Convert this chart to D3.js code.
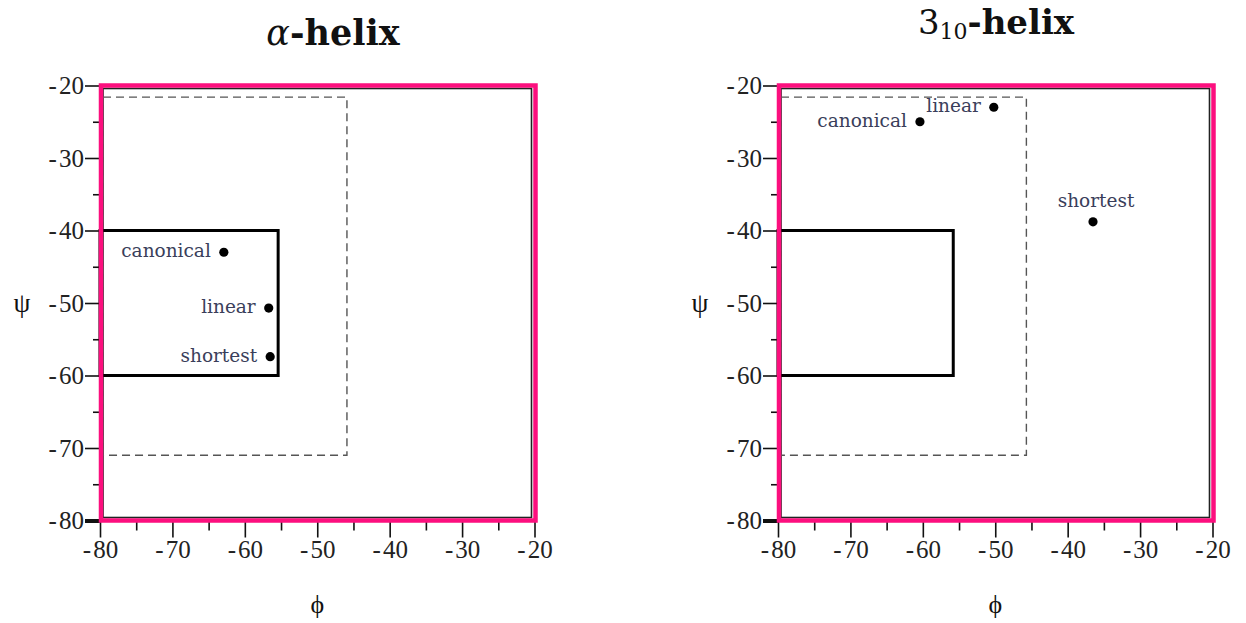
<!DOCTYPE html>
<html>
<head>
<meta charset="utf-8">
<script src="https://cdn.jsdelivr.net/npm/d3@7"></script>
<style>
  html, body { margin: 0; padding: 0; background: #ffffff; }
  svg { display: block; }
</style>
</head>
<body>
<svg id="chart" width="1246" height="623"></svg>
<script>
// Axis ranges and ticks (degrees)
const phiDomain = [-80, -20];
const psiDomain = [-80, -20];
const majorTicks = [-80, -70, -60, -50, -40, -30, -20];
const minorTicks = [-75, -65, -55, -45, -35, -25];

// Reference regions: [phiMin, phiMax, psiMin, psiMax]
const alphaSolidBox = [-80, -55.4, -60, -40];
const alphaDashedBox = [-80, -45.9, -71.0, -21.6];
const threeTenSolidBox = [-80, -55.8, -60, -40];
const threeTenDashedBox = [-80, -45.7, -71.0, -21.6];

// Helix parameter points
const pointNames = ["canonical", "linear", "shortest"];
const alphaPhi = [-62.9, -56.7, -56.5];
const alphaPsi = [-43.0, -50.7, -57.4];
const threeTenPhi = [-60.4, -50.2, -36.5];
const threeTenPsi = [-25.0, -23.0, -38.8];

const svg = d3.select("#chart");
const PINK = "#fc0f7e";
const serif = "'Liberation Serif', 'Times New Roman', serif";
const labelFont = "'DejaVu Serif', serif";

const panels = [
  {
    left: 100, title: "alpha",
    solid: alphaSolidBox, dashed: alphaDashedBox,
    phi: alphaPhi, psi: alphaPsi,
    place: ["left", "left", "left"]
  },
  {
    left: 778, title: "threeTen",
    solid: threeTenSolidBox, dashed: threeTenDashedBox,
    phi: threeTenPhi, psi: threeTenPsi,
    place: ["left", "left", "above"]
  }
];

const plotW = 434.5, plotTop = 85.5, plotH = 435;

function fmt(d) { return "-\u200A" + Math.abs(d); }

panels.forEach(p => {
  const x = d3.scaleLinear().domain(phiDomain).range([p.left, p.left + plotW]);
  const y = d3.scaleLinear().domain(psiDomain).range([plotTop + plotH, plotTop]);
  const g = svg.append("g");

  // Axis frame (black, slightly inside the pink border)
  g.append("rect")
    .attr("x", x(-80) + 3).attr("y", y(-20) + 3)
    .attr("width", x(-20) - x(-80) - 6).attr("height", y(-80) - y(-20) - 6)
    .attr("fill", "none").attr("stroke", "#222").attr("stroke-width", 1.6);

  // Minor ticks
  const yMinor = g.append("g").attr("transform", `translate(${x(-80)},0)`)
    .call(d3.axisLeft(y).tickValues(minorTicks).tickSize(7).tickFormat(""));
  const xMinor = g.append("g").attr("transform", `translate(0,${y(-80)})`)
    .call(d3.axisBottom(x).tickValues(minorTicks).tickSize(10).tickFormat(""));

  // Major ticks with labels
  const yAxis = g.append("g").attr("transform", `translate(${x(-80)},0)`)
    .call(d3.axisLeft(y).tickValues(majorTicks).tickSize(15).tickPadding(1).tickFormat(fmt));
  const xAxis = g.append("g").attr("transform", `translate(0,${y(-80)})`)
    .call(d3.axisBottom(x).tickValues(majorTicks).tickSize(17).tickPadding(3).tickFormat(fmt));

  [yMinor, xMinor, yAxis, xAxis].forEach(a => {
    a.select(".domain").remove();
    a.selectAll(".tick line").attr("stroke", "#111").attr("stroke-width", 1.6);
    a.selectAll(".tick text")
      .attr("fill", "#222")
      .style("font-family", serif)
      .style("font-size", "25px");
  });
  yAxis.selectAll(".tick").filter(d => d === -80).select("line").attr("stroke-width", 4);

  // Dashed region
  const db = p.dashed;
  g.append("rect")
    .attr("x", x(db[0]) + 3).attr("y", y(db[3]))
    .attr("width", x(db[1]) - x(db[0]) - 3).attr("height", y(db[2]) - y(db[3]))
    .attr("fill", "none").attr("stroke", "#555").attr("stroke-width", 1.4)
    .attr("stroke-dasharray", "8,5");

  // Solid region
  const sb = p.solid;
  g.append("rect")
    .attr("x", x(sb[0])).attr("y", y(sb[3]))
    .attr("width", x(sb[1]) - x(sb[0])).attr("height", y(sb[2]) - y(sb[3]))
    .attr("fill", "none").attr("stroke", "#000").attr("stroke-width", 3);

  // Pink border
  g.append("rect")
    .attr("x", x(-80) + 1).attr("y", y(-20))
    .attr("width", x(-20) - x(-80)).attr("height", y(-80) - y(-20))
    .attr("fill", "none").attr("stroke", PINK).attr("stroke-width", 4.5);

  // Points and their labels
  const pts = pointNames.map((n, i) => ({ name: n, phi: p.phi[i], psi: p.psi[i], place: p.place[i] }));
  g.selectAll("circle.pt").data(pts).join("circle")
    .attr("class", "pt")
    .attr("cx", d => x(d.phi)).attr("cy", d => y(d.psi))
    .attr("r", 4.6).attr("fill", "#000");
  g.selectAll("text.pt").data(pts).join("text")
    .attr("class", "pt")
    .attr("x", d => d.place === "above" ? x(d.phi) + 3 : x(d.phi) - 13)
    .attr("y", d => d.place === "above" ? y(d.psi) - 15 : y(d.psi) + 5)
    .attr("text-anchor", d => d.place === "above" ? "middle" : "end")
    .attr("fill", "#3a3e5a")
    .style("font-family", labelFont)
    .style("font-size", "18.5px")
    .text(d => d.name);

  // Axis titles
  g.append("text")
    .attr("x", (x(-80) + x(-20)) / 2).attr("y", 613)
    .attr("text-anchor", "middle")
    .style("font-family", serif).style("font-size", "26px").attr("fill", "#111")
    .text("\u03D5");
  g.append("text")
    .attr("x", x(-80) - 78).attr("y", y(-50) + 9)
    .attr("text-anchor", "middle")
    .style("font-family", serif).style("font-size", "27px").attr("fill", "#111")
    .text("\u03C8");

  // Panel titles
  if (p.title === "alpha") {
    const t = g.append("text")
      .attr("x", 333).attr("y", 45)
      .attr("text-anchor", "middle")
      .style("font-family", "'DejaVu Serif', serif").style("font-size", "35px").attr("fill", "#111");
    t.append("tspan").style("font-style", "italic").text("\u03B1");
    t.append("tspan").style("font-weight", "bold").text("-helix");
  } else {
    const t = g.append("text")
      .attr("x", 996).attr("y", 34)
      .attr("text-anchor", "middle")
      .style("font-family", "'DejaVu Serif', serif").style("font-size", "34px").attr("fill", "#111");
    t.append("tspan").text("3");
    t.append("tspan").attr("dy", 5).style("font-size", "22px").text("10");
    t.append("tspan").attr("dy", -5).style("font-weight", "bold").text("-helix");
  }
});
</script>
</body>
</html>
